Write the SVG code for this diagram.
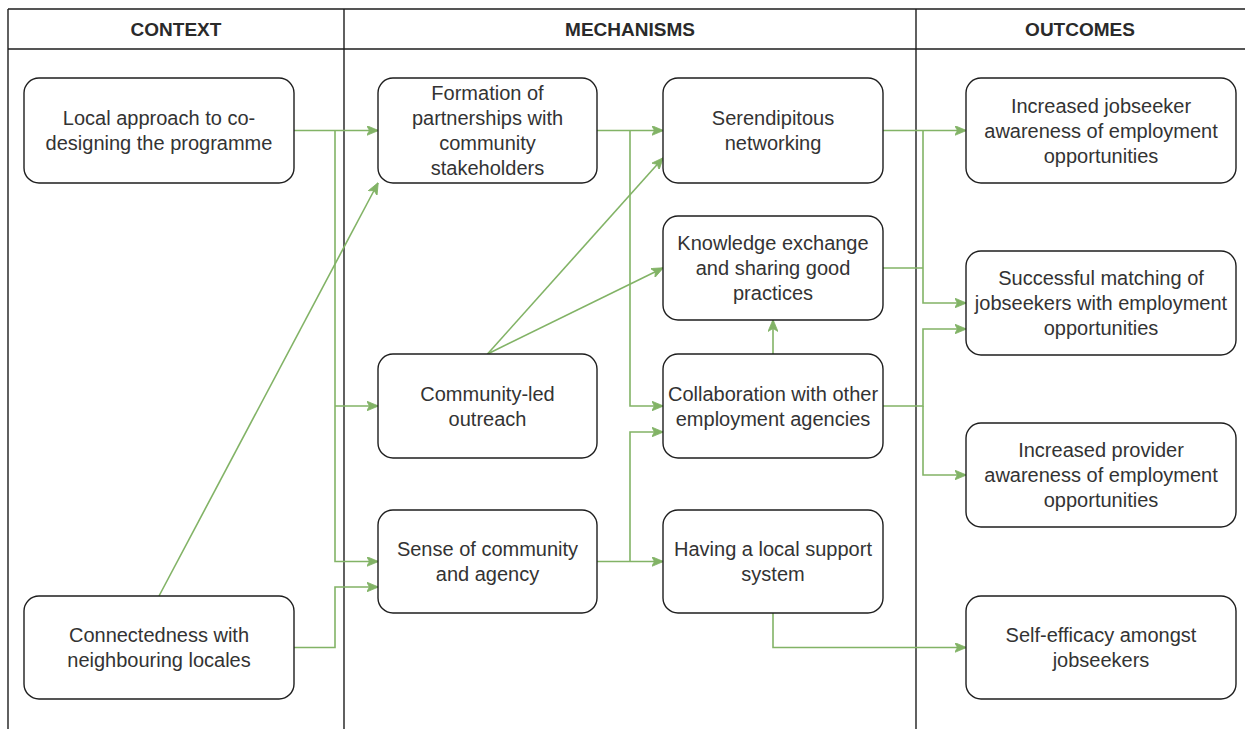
<svg xmlns="http://www.w3.org/2000/svg" width="1245" height="729" viewBox="0 0 1245 729">
<style>
.grid{stroke:#1e1e1e;stroke-width:1.4;fill:none}
.hdr{font-family:"Liberation Sans",Arial,sans-serif;font-size:19px;font-weight:bold;fill:#2a2a2a;text-anchor:middle}
.box{fill:#ffffff;stroke:#1e1e1e;stroke-width:1.4}
.lbl{font-family:"Liberation Sans",Arial,sans-serif;font-size:20px;fill:#333333;text-anchor:middle}
.edge{fill:none;stroke:#82b366;stroke-width:1.6}
.arr{marker-end:url(#ah)}
</style>
<defs>
<marker id="ah" markerUnits="userSpaceOnUse" markerWidth="12" markerHeight="10" viewBox="0 0 12 10" refX="11.5" refY="5" orient="auto">
<path d="M0,0 L12,5 L0,10 L3,5 Z" fill="#82b366" stroke="#82b366" stroke-width="0.8"/>
</marker>
</defs>
<rect width="1245" height="729" fill="#ffffff"/>
<g id="table">
<path class="grid" d="M8,9 H1245 M8,49 H1245 M8,9 V729 M344,9 V729 M916,9 V729"/>
<text class="hdr" x="176" y="36">CONTEXT</text>
<text class="hdr" x="630" y="36">MECHANISMS</text>
<text class="hdr" x="1080" y="36">OUTCOMES</text>
</g>
<g id="connectors">
<path class="edge arr" d="M294,130.5 H378"/>
<path class="edge arr" d="M335,130.5 V561.5 H378"/>
<path class="edge arr" d="M335,406 H378"/>
<path class="edge arr" d="M294,647.5 H335 V587 H378"/>
<path class="edge arr" d="M159,596 L378,183"/>
<path class="edge arr" d="M597,130.5 H663"/>
<path class="edge arr" d="M630,130.5 V406 H663"/>
<path class="edge arr" d="M487.5,354 L663,158"/>
<path class="edge arr" d="M487.5,354 L663,268"/>
<path class="edge arr" d="M597,561.5 H663"/>
<path class="edge arr" d="M630,561.5 V432 H663"/>
<path class="edge arr" d="M773,354 V320"/>
<path class="edge arr" d="M883,130.5 H966"/>
<path class="edge arr" d="M923,130.5 V303 H966"/>
<path class="edge" d="M883,268 H923"/>
<path class="edge arr" d="M883,406 H923 V329 H966"/>
<path class="edge arr" d="M923,406 V475 H966"/>
<path class="edge arr" d="M773,613 V647.5 H966"/>
</g>
<g id="n-local">
<rect class="box" x="24" y="78" width="270" height="105" rx="15"/>
<text class="lbl" x="159" y="125">Local approach to co-</text>
<text class="lbl" x="159" y="150">designing the programme</text>
</g>
<g id="n-connected">
<rect class="box" x="24" y="596" width="270" height="103" rx="15"/>
<text class="lbl" x="159" y="642">Connectedness with</text>
<text class="lbl" x="159" y="667">neighbouring locales</text>
</g>
<g id="n-formation">
<rect class="box" x="378" y="78" width="219" height="105" rx="15"/>
<text class="lbl" x="487.5" y="100">Formation of</text>
<text class="lbl" x="487.5" y="125">partnerships with</text>
<text class="lbl" x="487.5" y="150">community</text>
<text class="lbl" x="487.5" y="175">stakeholders</text>
</g>
<g id="n-community">
<rect class="box" x="378" y="354" width="219" height="104" rx="15"/>
<text class="lbl" x="487.5" y="400.5">Community-led</text>
<text class="lbl" x="487.5" y="425.5">outreach</text>
</g>
<g id="n-sense">
<rect class="box" x="378" y="510" width="219" height="103" rx="15"/>
<text class="lbl" x="487.5" y="556">Sense of community</text>
<text class="lbl" x="487.5" y="581">and agency</text>
</g>
<g id="n-serendipitous">
<rect class="box" x="663" y="78" width="220" height="105" rx="15"/>
<text class="lbl" x="773" y="125">Serendipitous</text>
<text class="lbl" x="773" y="150">networking</text>
</g>
<g id="n-knowledge">
<rect class="box" x="663" y="216" width="220" height="104" rx="15"/>
<text class="lbl" x="773" y="250">Knowledge exchange</text>
<text class="lbl" x="773" y="275">and sharing good</text>
<text class="lbl" x="773" y="300">practices</text>
</g>
<g id="n-collaboration">
<rect class="box" x="663" y="354" width="220" height="104" rx="15"/>
<text class="lbl" x="773" y="400.5">Collaboration with other</text>
<text class="lbl" x="773" y="425.5">employment agencies</text>
</g>
<g id="n-support">
<rect class="box" x="663" y="510" width="220" height="103" rx="15"/>
<text class="lbl" x="773" y="556">Having a local support</text>
<text class="lbl" x="773" y="581">system</text>
</g>
<g id="n-jobseeker-awareness">
<rect class="box" x="966" y="78" width="270" height="105" rx="15"/>
<text class="lbl" x="1101" y="112.5">Increased jobseeker</text>
<text class="lbl" x="1101" y="137.5">awareness of employment</text>
<text class="lbl" x="1101" y="162.5">opportunities</text>
</g>
<g id="n-matching">
<rect class="box" x="966" y="251" width="270" height="104" rx="15"/>
<text class="lbl" x="1101" y="285">Successful matching of</text>
<text class="lbl" x="1101" y="310">jobseekers with employment</text>
<text class="lbl" x="1101" y="335">opportunities</text>
</g>
<g id="n-provider-awareness">
<rect class="box" x="966" y="423" width="270" height="104" rx="15"/>
<text class="lbl" x="1101" y="457">Increased provider</text>
<text class="lbl" x="1101" y="482">awareness of employment</text>
<text class="lbl" x="1101" y="507">opportunities</text>
</g>
<g id="n-selfefficacy">
<rect class="box" x="966" y="596" width="270" height="103" rx="15"/>
<text class="lbl" x="1101" y="642">Self-efficacy amongst</text>
<text class="lbl" x="1101" y="667">jobseekers</text>
</g>
</svg>
